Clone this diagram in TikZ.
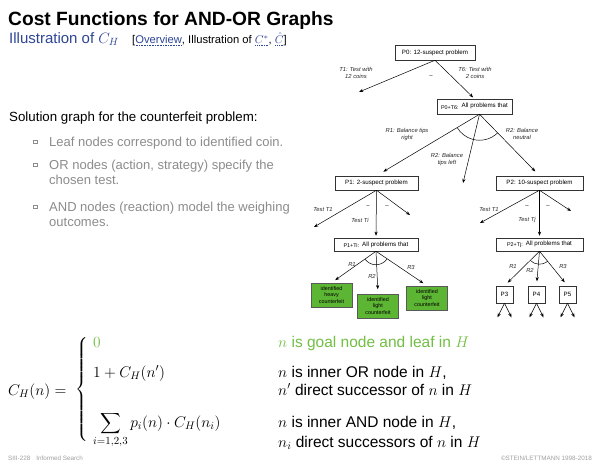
\RequirePackage{fix-cm}
\documentclass[tikz,border=0pt]{standalone}
\usepackage[no-math]{fontspec}
\setmainfont{Liberation Sans}
\usepackage{amsmath}
\usetikzlibrary{arrows.meta,shadows}

\definecolor{titleblue}{HTML}{2E4596}
\definecolor{leafgreen}{HTML}{5DB534}
\definecolor{goalgreen}{HTML}{72BF44}
\definecolor{textgray}{HTML}{8C8C8C}
\definecolor{footgray}{HTML}{A0A0A0}

\newcommand{\fsz}[2]{\fontsize{#1}{#2}\selectfont}
\newcommand{\andhead}[1]{{\fsz{5.4}{6}#1}\hspace{3pt}\raisebox{1.5pt}{All problems that}}
% link text: blue with a dotted underline
\newsavebox{\lnkbox}
\newcommand{\lnk}[1]{{\color{titleblue}\sbox{\lnkbox}{#1}%
  \rlap{\raisebox{-2pt}{\hbox to \wd\lnkbox{\xleaders\hbox to 1.6pt{\hss\rule{0.8pt}{0.5pt}\hss}\hfill}}}%
  \usebox{\lnkbox}}}

\begin{document}
\begin{tikzpicture}[x=1pt,y=-1pt,
  txt/.style={anchor=base west, inner sep=0pt},
  probbox/.style={draw=black!80, line width=0.5pt, fill=white, inner sep=0pt,
    font=\fsz{6.2}{7}},
  leafbox/.style={draw=black!65, line width=0.6pt, fill=leafgreen, inner sep=0pt,
    align=center, minimum width=41pt, minimum height=24pt, font=\fsz{5.4}{6.3}},
  elabel/.style={inner sep=0pt, align=center, text=black!85, font=\fsz{5.8}{7}\itshape},
  dashmark/.style={inner sep=0pt, font=\fsz{6}{7}},
  conn/.style={-{Stealth[length=4.2pt,width=3.2pt]}, line width=0.5pt},
  andarc/.style={line width=0.5pt},
  bulletbox/.style={draw=textgray, fill=white, line width=0.4pt, inner sep=0pt,
    minimum size=3.6pt, drop shadow={shadow xshift=0.6pt, shadow yshift=-0.6pt, fill=textgray, opacity=1}},
  bullettext/.style={txt, text=textgray, font=\fsz{13}{15}},
  formula/.style={txt, font=\fsz{15.5}{18}}
]
\fill[white] (0,0) rectangle (600,467);
\useasboundingbox (0,0) rectangle (600,467);

% ---------- heading ----------
\node[txt, font=\fsz{19.2}{22}\bfseries] (title) at (8,25.5) {Cost Functions for AND-OR Graphs};
\node[txt, font=\fsz{15}{18}, text=titleblue] (subtitle) at (9,43.5) {Illustration of $C_H$};
\node[txt, font=\fsz{11.2}{13}] (links) at (132,43.5)
  {[\lnk{Overview}, Illustration of \lnk{$C^*$}, \lnk{$\hat{C}$}]};

% ---------- explanation ----------
\node[txt, font=\fsz{13.3}{15}] (intro) at (9,121) {Solution graph for the counterfeit problem:};
\node[bulletbox] (bb1) at (35,141.5) {};
\node[bullettext] (i1) at (49,146) {Leaf nodes correspond to identified coin.};
\node[bulletbox] (bb2) at (35,164.5) {};
\node[bullettext] (i2a) at (49,169) {OR nodes (action, strategy) specify the};
\node[bullettext] (i2b) at (49,184) {chosen test.};
\node[bulletbox] (bb3) at (35,206.5) {};
\node[bullettext] (i3a) at (49,211) {AND nodes (reaction) model the weighing};
\node[bullettext] (i3b) at (49,226) {outcomes.};

% ---------- cost function ----------
\node[formula] (lhs) at (8,395) {$C_H(n) =$};
\node[inner sep=0pt, font=\fsz{15.5}{18}] (brace) at (82,389.5)
  {$\left\{\vcenter{\hbox{\rule{0pt}{108pt}}}\right.$};
\node[formula, text=goalgreen] (c0) at (93,347) {$0$};
\node[formula] (c1) at (93,377) {$1 + C_H(n')$};
\node[formula] (c2) at (93,427) {$\displaystyle\sum_{i=1,2,3} p_i(n)\cdot C_H(n_i)$};
\node[formula, text=goalgreen] (d0) at (278,347) {$n$ is goal node and leaf in $H$};
\node[formula] (d1) at (278,377) {$n$ is inner OR node in $H$,};
\node[formula] (d1b) at (278,395) {$n'$ direct successor of $n$ in $H$};
\node[formula] (d2) at (278,427) {$n$ is inner AND node in $H$,};
\node[formula] (d2b) at (278,447) {$n_i$ direct successors of $n$ in $H$};

% ---------- footer ----------
\node[txt, font=\fsz{6.3}{7}, text=footgray] (foot1) at (8,460) {SIII-228\hspace{6pt}Informed Search};
\node[anchor=base east, inner sep=0pt, font=\fsz{6.3}{7}, text=footgray] (foot2) at (592,460)
  {\textcopyright STEIN/LETTMANN 1998-2018};

% ---------- solution graph: root ----------
\node[probbox, minimum width=80pt, minimum height=15pt] (p0) at (435,52.5) {P0: 12-suspect problem};
\node[probbox, minimum width=75pt, minimum height=15pt] (p0t6) at (474.5,106.5) {\andhead{P0+T6:}};
\coordinate (t1end) at (359,92);
\draw[conn] (p0.south) -- (t1end);
\draw[conn, shorten >=2pt] (p0.south) -- (p0t6.north);
\node[elabel] (lt1) at (356,73) {T1: Test with\\12 coins};
\node[elabel] (lt6) at (475,73) {T6: Test with\\2 coins};
\node[dashmark] (dd0) at (431,77) {--};

% ---------- weighing outcomes of T6 ----------
\coordinate (a0) at ([xshift=5pt]p0t6.south);
\node[probbox, minimum width=83pt, minimum height=14pt] (p1) at (376.5,183) {P1: 2-suspect problem};
\node[probbox, minimum width=87pt, minimum height=14pt] (p2) at (539.5,183) {P2: 10-suspect problem};
\coordinate (r2end) at (463,183);
\draw[conn, shorten >=8pt] (a0) -- (p1.north);
\draw[conn] (a0) -- (r2end);
\draw[conn, shorten >=6pt] (a0) -- (p2.north);
\draw[andarc] (a0) ++(46.2:26) arc[start angle=46.2, end angle=149.1, radius=26];
\node[elabel] (lr1) at (407,134) {R1: Balance tips\\right};
\node[elabel] (lr2) at (447,159) {R2: Balance\\tips left};
\node[elabel] (lr3) at (522,134) {R2: Balance\\neutral};

% ---------- P1 subtree ----------
\node[probbox, minimum width=84pt, minimum height=13pt] (p1ti) at (376,244.5) {\andhead{P1+Ti:}};
\coordinate (p1l) at (314,227);
\coordinate (p1r) at (410,215);
\draw[conn] (p1.south) -- (p1l);
\draw[conn, shorten >=2pt] (p1.south) -- (p1ti.north);
\draw[conn] (p1.south) -- (p1r);
\node[elabel] (lp1a) at (323,210) {Test T1};
\node[elabel] (lp1b) at (360,220) {Test Ti};
\node[dashmark] (dd1) at (368,207) {--};
\node[dashmark] (dd2) at (387,207) {--};

\node[leafbox] (lf1) at (331.5,295) {identified\\heavy\\counterfeit};
\node[leafbox] (lf2) at (378,306) {identified\\light\\counterfeit};
\node[leafbox] (lf3) at (427,298) {identified\\light\\counterfeit};
\draw[conn, shorten >=4.5pt] (p1ti.south) -- (lf1.north);
\draw[conn, shorten >=4.5pt] (p1ti.south) -- (lf2.north);
\draw[conn, shorten >=4.5pt] (p1ti.south) -- (lf3.north);
\draw[andarc] (p1ti.south) ++(34.5:13.5) arc[start angle=34.5, end angle=144.3, radius=13.5];
\node[elabel] (lq1) at (352,264) {R1};
\node[elabel] (lq2) at (372,276) {R2};
\node[elabel] (lq3) at (411,267) {R3};

% ---------- P2 subtree ----------
\node[probbox, minimum width=87pt, minimum height=13pt] (p2tj) at (539.5,244.5) {\andhead{P2+Tj:}};
\coordinate (p2l) at (480,223);
\coordinate (p2r) at (571,211);
\draw[conn] (p2.south) -- (p2l);
\draw[conn, shorten >=2pt] (p2.south) -- (p2tj.north);
\draw[conn] (p2.south) -- (p2r);
\node[elabel] (lp2a) at (489,210) {Test T1};
\node[elabel] (lp2b) at (527,220) {Test Tj};
\node[dashmark] (dd3) at (527,207) {--};
\node[dashmark] (dd4) at (548,207) {--};

\node[probbox, minimum width=17pt, minimum height=17pt] (p3) at (504.5,294.5) {P3};
\node[probbox, minimum width=17pt, minimum height=17pt] (p4) at (536.5,294.5) {P4};
\node[probbox, minimum width=17pt, minimum height=17pt] (p5) at (567.5,294.5) {P5};
\draw[conn, shorten >=4.5pt] (p2tj.south) -- (p3.north);
\draw[conn, shorten >=4.5pt] (p2tj.south) -- (p4.north);
\draw[conn, shorten >=4.5pt] (p2tj.south) -- (p5.north);
\draw[andarc] (p2tj.south) ++(51.3:13) arc[start angle=51.3, end angle=135, radius=13];
\node[elabel] (ls1) at (513,266) {R1};
\node[elabel] (ls2) at (530,270) {R2};
\node[elabel] (ls3) at (563,266) {R3};

\foreach \n in {p3,p4,p5}{
  \coordinate (\n a) at ([shift={(-7pt,-14pt)}]\n.south);
  \coordinate (\n b) at ([shift={(7pt,-14pt)}]\n.south);
  \draw[conn] (\n.south) -- (\n a);
  \draw[conn] (\n.south) -- (\n b);
}
\end{tikzpicture}
\end{document}
